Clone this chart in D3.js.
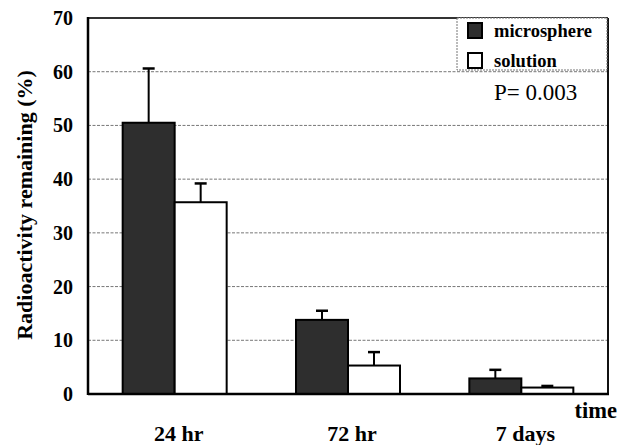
<!DOCTYPE html>
<html><head><meta charset="utf-8">
<script src="https://cdn.jsdelivr.net/npm/d3@7"></script>
<style>body{margin:0;background:#fff}svg{display:block}</style>
</head><body>
<script>
const categories = ["24 hr", "72 hr", "7 days"];
const seriesNames = ["microsphere", "solution"];
const microsphere = [50.5, 13.8, 2.9];
const microsphereErr = [10.1, 1.7, 1.6];
const solution = [35.7, 5.3, 1.2];
const solutionErr = [3.5, 2.5, 0.3];
const yTicks = [0, 10, 20, 30, 40, 50, 60, 70];

const W = 617, H = 445;
const L = 88, R = 608, T = 18, B = 394;
const FF = "'Liberation Serif'";
const svg = d3.select("body").append("svg").attr("width", W).attr("height", H);

const y = d3.scaleLinear().domain([0, 70]).range([B, T]);
const x0 = d3.scaleBand().domain(categories).range([L, R]).paddingInner(0.4).paddingOuter(0.2);
const x1 = d3.scaleBand().domain(seriesNames).range([0, x0.bandwidth()]);

// grid
svg.append("g").selectAll("line").data(yTicks.filter(d => d > 0 && d < 70)).join("line")
  .attr("x1", L).attr("x2", R).attr("y1", d => y(d)).attr("y2", d => y(d))
  .attr("stroke", "#777").attr("stroke-width", 1).attr("stroke-dasharray", "3,1.5");

// frame top/right
svg.append("line").attr("x1", L).attr("x2", R).attr("y1", T).attr("y2", T).attr("stroke", "#333").attr("stroke-width", 2);
svg.append("line").attr("x1", R).attr("x2", R).attr("y1", T).attr("y2", B).attr("stroke", "#111").attr("stroke-width", 2);

const data = [
  {name: "microsphere", vals: microsphere, errs: microsphereErr, fill: "#2e2e2e"},
  {name: "solution", vals: solution, errs: solutionErr, fill: "#fff"}
];

data.forEach(s => {
  const g = svg.append("g");
  g.selectAll("line.e").data(categories).join("line")
    .attr("x1", (c) => x0(c) + x1(s.name) + x1.bandwidth() / 2)
    .attr("x2", (c) => x0(c) + x1(s.name) + x1.bandwidth() / 2)
    .attr("y1", (c, i) => y(s.vals[i]))
    .attr("y2", (c, i) => y(s.vals[i] + s.errs[i]))
    .attr("stroke", "#000").attr("stroke-width", 2);
  g.selectAll("line.c").data(categories).join("line")
    .attr("x1", (c) => x0(c) + x1(s.name) + x1.bandwidth() / 2 - 6)
    .attr("x2", (c) => x0(c) + x1(s.name) + x1.bandwidth() / 2 + 6)
    .attr("y1", (c, i) => y(s.vals[i] + s.errs[i]))
    .attr("y2", (c, i) => y(s.vals[i] + s.errs[i]))
    .attr("stroke", "#000").attr("stroke-width", 2.5);
  g.selectAll("rect").data(categories).join("rect")
    .attr("x", c => x0(c) + x1(s.name))
    .attr("width", x1.bandwidth())
    .attr("y", (c, i) => y(s.vals[i]))
    .attr("height", (c, i) => B - y(s.vals[i]))
    .attr("fill", s.fill).attr("stroke", "#000").attr("stroke-width", 2);
});

// axes
svg.append("line").attr("x1", L).attr("x2", L).attr("y1", T - 1).attr("y2", B + 1).attr("stroke", "#000").attr("stroke-width", 2.5);
svg.append("line").attr("x1", L).attr("x2", R + 1).attr("y1", B).attr("y2", B).attr("stroke", "#000").attr("stroke-width", 2.5);

// y tick labels
svg.append("g").selectAll("text").data(yTicks).join("text")
  .attr("x", 73).attr("y", d => y(d) + 7)
  .attr("text-anchor", "end").attr("font-weight", "bold").attr("font-size", 20)
  .style("font-family", FF)
  .text(d => d);

// y label
svg.append("text").attr("transform", "translate(32,205) rotate(-90)")
  .attr("text-anchor", "middle").attr("font-weight", "bold").attr("font-size", 22)
  .style("font-family", FF)
  .text("Radioactivity remaining (%)");

// x labels
svg.append("g").selectAll("text").data(categories).join("text")
  .attr("x", c => x0(c) + x0.bandwidth() / 2 + 4).attr("y", 441)
  .attr("text-anchor", "middle").attr("font-weight", "bold").attr("font-size", 22)
  .style("font-family", FF)
  .text(c => c);
svg.append("text").attr("x", 617).attr("y", 418).attr("text-anchor", "end")
  .attr("font-weight", "bold").attr("font-size", 22.5).style("font-family", FF).text("time");

// legend
const lg = svg.append("g");
lg.append("rect").attr("x", 457).attr("y", 18).attr("width", 150).attr("height", 52)
  .attr("fill", "#fff").attr("stroke", "#777").attr("stroke-width", 1).attr("stroke-dasharray", "2,1");
const legY = [31, 61];
data.forEach((s, i) => {
  lg.append("rect").attr("x", 468).attr("y", legY[i] - 8).attr("width", 14).attr("height", 15)
    .attr("fill", s.fill).attr("stroke", "#000").attr("stroke-width", 2);
  lg.append("text").attr("x", 494).attr("y", legY[i] + 6)
    .attr("font-weight", "bold").attr("font-size", 18.5).style("font-family", FF).text(s.name);
});

svg.append("text").attr("x", 494).attr("y", 100)
  .attr("font-size", 23).style("font-family", FF).text("P= 0.003");
</script>
</body></html>
